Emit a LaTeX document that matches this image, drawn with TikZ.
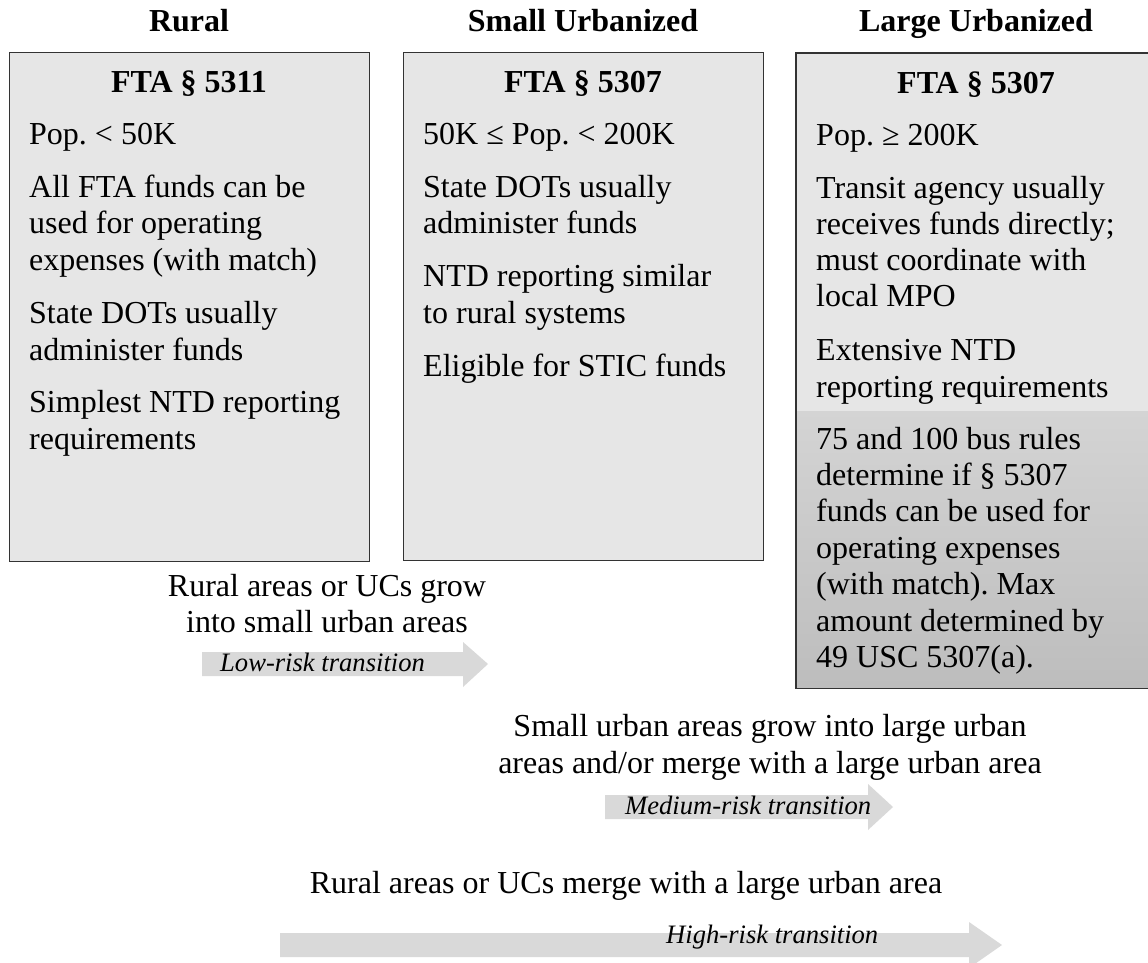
\documentclass[tikz,border=0pt]{standalone}
\usepackage{fontspec}
\setmainfont{Liberation Serif}
\definecolor{boxgray}{HTML}{E6E6E6}
\definecolor{bandgray}{HTML}{D9D9D9}
\definecolor{shadetop}{HTML}{D4D4D4}
\definecolor{shadebot}{HTML}{BDBDBD}
\definecolor{edge}{HTML}{333333}
\frenchspacing
\begin{document}
\begin{tikzpicture}[x=1pt,y=-1pt]
\tikzset{
  panel/.style={draw=edge, line width=1.4pt, fill=boxgray, anchor=north west, inner sep=0pt},
  panelline/.style={draw=edge, line width=1.4pt},
  body/.style={anchor=base west, inner sep=0pt, font=\fontsize{32}{36.7}\selectfont},
  head/.style={anchor=base, inner sep=0pt, font=\fontsize{32}{36.7}\selectfont\bfseries},
  trans/.style={anchor=base, inner sep=0pt, font=\fontsize{32}{36.7}\selectfont},
  risk/.style={anchor=base west, inner sep=0pt, font=\fontsize{26.6}{30}\selectfont\itshape},
  band/.style={fill=bandgray, draw=none}
}
\useasboundingbox (0,0) rectangle (1148,963);
\fill[white] (0,0) rectangle (1148,963);

% column headers
\node[head] (h1) at (189,32) {Rural};
\node[head] (h2) at (583,32) {Small Urbanized};
\node[head] (h3) at (976,32) {Large Urbanized};

% boxes
\node[panel, minimum width=360pt, minimum height=509pt] (b1) at (9,52) {};
\node[panel, minimum width=360pt, minimum height=508pt] (b2) at (403,52) {};
\node[panel, minimum width=360pt, minimum height=634pt] (b3) at (796,53) {};
\shade[top color=shadetop, bottom color=shadebot] (796,411) rectangle (1156,687);
\draw[panelline] (b3.north west) rectangle (b3.south east);

% box 1
\node[head] (t1) at (189,93) {FTA § 5311};
\node[body] (a1) at (29,144) {Pop. < 50K};
\node[body] (a2) at (29,197) {All FTA funds can be};
\node[body] (a3) at (29,233.7) {used for operating};
\node[body] (a4) at (29,270.4) {expenses (with match)};
\node[body] (a5) at (29,323.4) {State DOTs usually};
\node[body] (a6) at (29,360.1) {administer funds};
\node[body] (a7) at (29,412.5) {Simplest NTD reporting};
\node[body] (a8) at (29,449) {requirements};

% box 2
\node[head] (t2) at (583,93) {FTA § 5307};
\node[body] (c1) at (423,144) {50K ≤ Pop. < 200K};
\node[body] (c2) at (423,197) {State DOTs usually};
\node[body] (c3) at (423,233.7) {administer funds};
\node[body] (c4) at (423,286.7) {NTD reporting similar};
\node[body] (c5) at (423,323.4) {to rural systems};
\node[body] (c6) at (423,376) {Eligible for STIC funds};

% box 3
\node[head] (t3) at (976,94) {FTA § 5307};
\node[body] (d1) at (816,146) {Pop. ≥ 200K};
\node[body] (d2) at (816,198) {Transit agency usually};
\node[body] (d3) at (816,234) {receives funds directly;};
\node[body] (d4) at (816,270) {must coordinate with};
\node[body] (d5) at (816,306) {local MPO};
\node[body] (d6) at (816,360) {Extensive NTD};
\node[body] (d7) at (816,397) {reporting requirements};
\node[body] (e1) at (816,449) {75 and 100 bus rules};
\node[body] (e2) at (816,485.4) {determine if § 5307};
\node[body] (e3) at (816,521.8) {funds can be used for};
\node[body] (e4) at (816,558.2) {operating expenses};
\node[body] (e5) at (816,594.6) {(with match). Max};
\node[body] (e6) at (816,631) {amount determined by};
\node[body] (e7) at (816,667.4) {49 USC 5307(a).};

% low-risk transition
\node[trans] (l1) at (327,596) {Rural areas or UCs grow};
\node[trans] (l2) at (327,632.5) {into small urban areas};
\coordinate (lowS) at (202,664);
\coordinate (lowT) at (488,664);
\fill[band] (lowS) ++(0,-12) -- (463,652) -- (463,642) -- (lowT) -- (463,687) -- (463,676) -- (202,676) -- cycle;
\node[risk] (lr) at (220,671) {Low-risk transition};

% medium-risk transition
\node[trans] (m1) at (770,736) {Small urban areas grow into large urban};
\node[trans] (m2) at (770,773) {areas and/or merge with a large urban area};
\coordinate (medS) at (605,807);
\coordinate (medT) at (893,807);
\fill[band] (medS) ++(0,-12) -- (868,795) -- (868,784) -- (medT) -- (868,830) -- (868,819) -- (605,819) -- cycle;
\node[risk] (mr) at (625,814) {Medium-risk transition};

% high-risk transition
\node[trans] (r1) at (626,893) {Rural areas or UCs merge with a large urban area};
\coordinate (hiS) at (280,945);
\coordinate (hiT) at (1002,945);
\fill[band] (hiS) ++(0,-12) -- (969,933) -- (969,922) -- (hiT) -- (969,968) -- (969,957) -- (280,957) -- cycle;
\node[risk] (hr) at (666,943) {High-risk transition};
\end{tikzpicture}
\end{document}
